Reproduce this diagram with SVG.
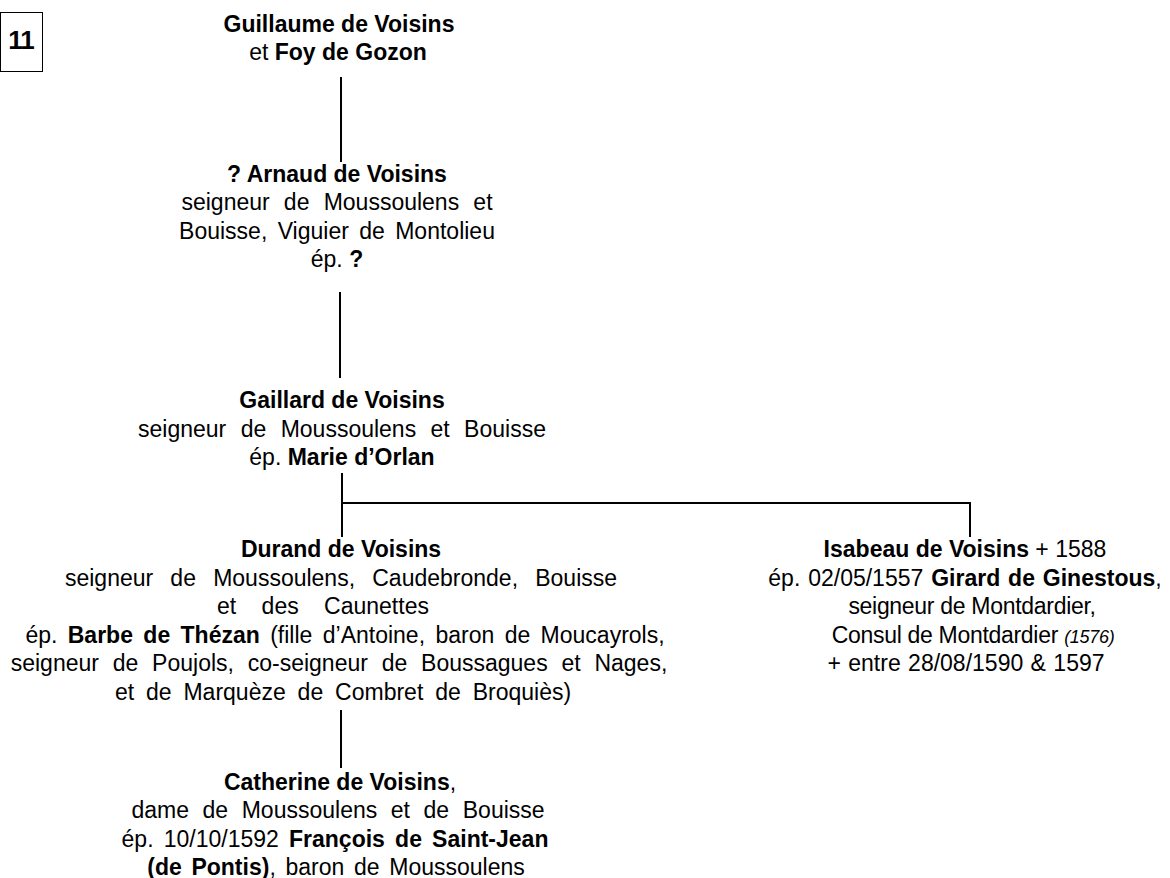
<svg xmlns="http://www.w3.org/2000/svg" width="1170" height="878" viewBox="0 0 1170 878">
<style>
text{font-family:"Liberation Sans",Arial,sans-serif;font-size:23px;fill:#000;text-anchor:middle}
.b{font-weight:700}
.i{font-style:italic;font-size:18px}
#connectors line{stroke:#000;stroke-width:2;fill:none}
</style>
<rect width="1170" height="878" fill="#fff"/>
<g id="badge">
<rect x="0.5" y="12.5" width="42" height="59" fill="none" stroke="#000" stroke-width="1"/>
<text x="21" y="48.5" class="b" style="font-size:26px;letter-spacing:-1px">11</text>
</g>
<g id="connectors">
<line x1="341" y1="77" x2="341" y2="162"/>
<line x1="340" y1="292" x2="340" y2="378"/>
<line x1="342" y1="473" x2="342" y2="537"/>
<line x1="341" y1="503" x2="971" y2="503"/>
<line x1="970" y1="502" x2="970" y2="537"/>
<line x1="341" y1="710" x2="341" y2="768"/>
</g>
<g id="guillaume">
<text x="339" y="32" class="b">Guillaume de Voisins</text>
<text x="338" y="60">et <tspan class="b">Foy de Gozon</tspan></text>
</g>
<g id="arnaud">
<text x="337" y="182" class="b">? Arnaud de Voisins</text>
<text x="337" y="210" word-spacing="7.8">seigneur de Moussoulens et</text>
<text x="337" y="239" word-spacing="4">Bouisse, Viguier de Montolieu</text>
<text x="337" y="267">ép. <tspan class="b">?</tspan></text>
</g>
<g id="gaillard">
<text x="342" y="408" class="b">Gaillard de Voisins</text>
<text x="342" y="436.5" word-spacing="8">seigneur de Moussoulens et Bouisse</text>
<text x="342" y="465">ép. <tspan class="b">Marie d’Orlan</tspan></text>
</g>
<g id="durand">
<text x="341" y="557" class="b">Durand de Voisins</text>
<text x="341" y="585.5" word-spacing="10.8">seigneur de Moussoulens, Caudebronde, Bouisse</text>
<text x="323" y="614" word-spacing="19">et des Caunettes</text>
<text x="345" y="642.5" word-spacing="4">ép. <tspan class="b">Barbe de Thézan</tspan> (fille d’Antoine, baron de Moucayrols,</text>
<text x="339" y="671" word-spacing="7.4">seigneur de Poujols, co-seigneur de Boussagues et Nages,</text>
<text x="343" y="699.5" word-spacing="5.5">et de Marquèze de Combret de Broquiès)</text>
</g>
<g id="isabeau">
<text x="965" y="557"><tspan class="b">Isabeau de Voisins</tspan> + 1588</text>
<text x="965" y="585.5" word-spacing="1.5">ép. 02/05/1557 <tspan class="b">Girard de Ginestous</tspan>,</text>
<text x="972" y="614" letter-spacing="-0.3">seigneur de Montdardier,</text>
<text x="973" y="642.5" letter-spacing="-0.3">Consul de Montdardier <tspan class="i">(1576)</tspan></text>
<text x="966" y="671" word-spacing="1">+ entre 28/08/1590 &amp; 1597</text>
</g>
<g id="catherine">
<text x="340" y="790"><tspan class="b">Catherine de Voisins</tspan>,</text>
<text x="338" y="818" word-spacing="7.2">dame de Moussoulens et de Bouisse</text>
<text x="335" y="846.5" word-spacing="3.8">ép. 10/10/1592 <tspan class="b">François de Saint-Jean</tspan></text>
<text x="336" y="875" word-spacing="3.3"><tspan class="b">(de Pontis)</tspan>, baron de Moussoulens</text>
</g>
</svg>
